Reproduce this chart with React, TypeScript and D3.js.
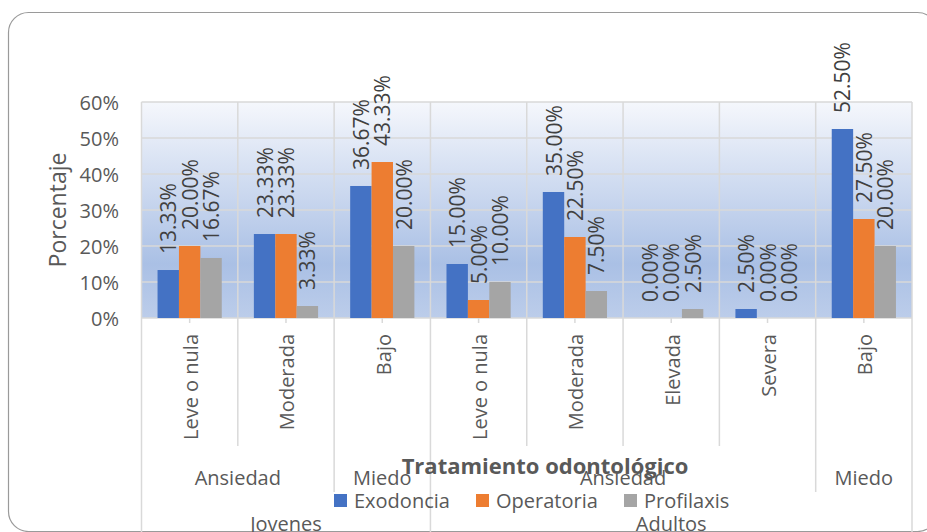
import React from "react";
import * as d3 from "d3";

const categories = ["Leve o nula", "Moderada", "Bajo", "Leve o nula", "Moderada", "Elevada", "Severa", "Bajo"];
const level2Labels = ["Ansiedad", "Miedo", "Ansiedad", "Miedo"];
const level2Spans = [2, 1, 4, 1];
const level3Labels = ["Jovenes", "Adultos"];
const level3Spans = [3, 5];
const seriesNames = ["Exodoncia", "Operatoria", "Profilaxis"];
const exodoncia = [13.33, 23.33, 36.67, 15.0, 35.0, 0.0, 2.5, 52.5];
const operatoria = [20.0, 23.33, 43.33, 5.0, 22.5, 0.0, 0.0, 27.5];
const profilaxis = [16.67, 3.33, 20.0, 10.0, 7.5, 2.5, 0.0, 20.0];
const yTicks = [0, 10, 20, 30, 40, 50, 60];
const colors = ["#4472C4", "#ED7D31", "#A5A5A5"];

const W = 927;
const H = 532;
const FONT = "'Open Sans', 'Noto Sans', sans-serif";

export default function App() {
  const values = [exodoncia, operatoria, profilaxis];
  const left = 141.5;
  const right = 912;
  const top = 102;
  const bottom = 318;
  const idx = categories.map((_, i) => i);
  const x0 = d3.scaleBand<number>().domain(idx).range([left, right]).paddingInner(0).paddingOuter(0);
  const step = x0.step();
  const bw = step / 4.5;
  const x1 = d3.scaleBand<string>().domain(seriesNames).range([0.75 * bw, 3.75 * bw]).padding(0);
  const y = d3.scaleLinear().domain([0, 60]).range([bottom, top]);

  // boundaries
  const boundaryDepth: number[] = idx.map(() => 446);
  boundaryDepth.push(540);
  boundaryDepth[0] = 540;
  let acc = 0;
  level2Spans.forEach((s) => {
    acc += s;
    if (acc < categories.length) boundaryDepth[acc] = Math.max(boundaryDepth[acc], 492);
  });
  acc = 0;
  level3Spans.forEach((s) => {
    acc += s;
    boundaryDepth[acc] = 540;
  });
  const boundaries = d3.range(categories.length + 1).map((i) => ({ x: left + i * step, d: boundaryDepth[i] }));

  const groupCenters = (spans: number[]) => {
    let a = 0;
    return spans.map((s) => {
      const c = left + (a + s / 2) * step;
      a += s;
      return c;
    });
  };
  const l2c = groupCenters(level2Spans);
  const l3c = groupCenters(level3Spans);

  const legendX = [334, 476, 624];

  return (
    <svg width={W} height={H} style={{ position: "absolute", left: 0, top: 0, display: "block" }} fontFamily={FONT}>
      <defs>
        <linearGradient id="bg" x1="0" y1="0" x2="0" y2="1">
          <stop offset="0" stopColor="#f5f7fc" />
          <stop offset="0.75" stopColor="#aac0e5" />
          <stop offset="1" stopColor="#bccdea" />
        </linearGradient>
      </defs>
      <rect x={0} y={0} width={W} height={H} fill="#ffffff" />
      <rect x={8.5} y={12.5} width={929} height={519} rx={20} ry={20} fill="#ffffff" stroke="#9a9a9a" strokeWidth={1.2} />
      <rect x={left} y={top} width={right - left} height={bottom - top} fill="url(#bg)" />
      {yTicks.map((t) => (
        <line key={"g" + t} x1={left} x2={right} y1={y(t)} y2={y(t)} stroke="#d9d9d9" strokeWidth={1.5} />
      ))}
      {boundaries.map((b, i) => (
        <line key={"b" + i} x1={b.x} x2={b.x} y1={top} y2={b.d} stroke="#d9d9d9" strokeWidth={1.5} />
      ))}
      {idx.map((i) => (
        <line key={"t" + i} x1={x0(i)! + step / 2} x2={x0(i)! + step / 2} y1={bottom} y2={bottom + 5} stroke="#d9d9d9" strokeWidth={1.5} />
      ))}
      {values.map((vals, s) =>
        vals.map((v, i) => (
          <rect
            key={"r" + s + "-" + i}
            x={x0(i)! + x1(seriesNames[s])!}
            y={y(v)}
            width={bw}
            height={bottom - y(v)}
            fill={colors[s]}
          />
        ))
      )}
      {values.map((vals, s) =>
        vals.map((v, i) => {
          const cx = x0(i)! + x1(seriesNames[s])! + bw / 2;
          const cy = y(v) - 16;
          return (
            <text
              key={"l" + s + "-" + i}
              transform={`translate(${cx},${cy}) rotate(-90)`}
              textAnchor="start"
              dominantBaseline="central"
              fontSize={21}
              fill="#404040"
            >
              {v.toFixed(2) + "%"}
            </text>
          );
        })
      )}
      {yTicks.map((t) => (
        <text key={"yt" + t} x={119} y={y(t)} textAnchor="end" dominantBaseline="central" fontSize={20} fill="#595959">
          {t + "%"}
        </text>
      ))}
      <text transform={`translate(57,${(top + bottom) / 2}) rotate(-90)`} textAnchor="middle" dominantBaseline="central" fontSize={23} fill="#595959">
        Porcentaje
      </text>
      {categories.map((c, i) => (
        <text
          key={"c" + i}
          transform={`translate(${x0(i)! + step / 2 + 1},334) rotate(-90)`}
          textAnchor="end"
          dominantBaseline="central"
          fontSize={20}
          fill="#595959"
        >
          {c}
        </text>
      ))}
      {level2Labels.map((l, i) => (
        <text key={"l2" + i} x={l2c[i]} y={485} textAnchor="middle" fontSize={20} fill="#595959">
          {l}
        </text>
      ))}
      {level3Labels.map((l, i) => (
        <text key={"l3" + i} x={l3c[i]} y={531} textAnchor="middle" fontSize={20} fill="#595959">
          {l}
        </text>
      ))}
      <text x={545} y={474} textAnchor="middle" fontSize={22} fontWeight="bold" fill="#595959">
        Tratamiento odontológico
      </text>
      {seriesNames.map((n, s) => (
        <g key={"lg" + s}>
          <rect x={legendX[s]} y={494} width={13} height={13} fill={colors[s]} />
          <text x={legendX[s] + 20} y={508} fontSize={20} fill="#595959">
            {n}
          </text>
        </g>
      ))}
    </svg>
  );
}
